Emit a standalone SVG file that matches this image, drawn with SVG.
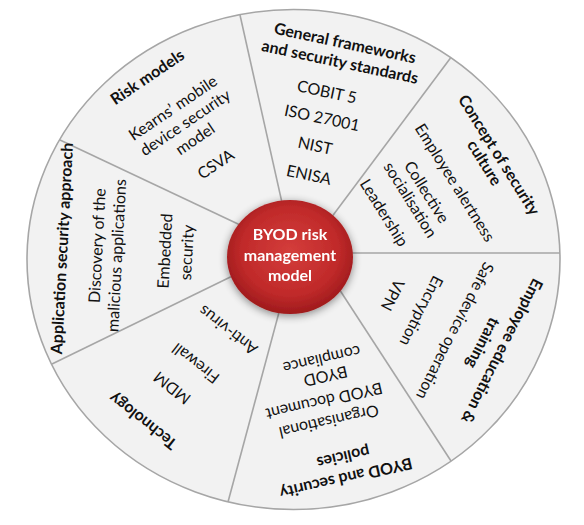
<svg xmlns="http://www.w3.org/2000/svg" width="584" height="525" viewBox="0 0 584 525">
<defs>
<radialGradient id="red" cx="50%" cy="45%" r="55%">
<stop offset="0" stop-color="#d43d3b"/>
<stop offset="0.7" stop-color="#c02a2a"/>
<stop offset="1" stop-color="#9e1a1c"/>
</radialGradient>
<filter id="shadow" x="-30%" y="-30%" width="160%" height="160%">
<feGaussianBlur in="SourceAlpha" stdDeviation="4"/>
<feOffset dx="0" dy="2" result="b"/>
<feComponentTransfer><feFuncA type="linear" slope="0.45"/></feComponentTransfer>
<feMerge><feMergeNode/><feMergeNode in="SourceGraphic"/></feMerge>
</filter>
<style>
.rim{fill:#f2f2f2;stroke:#a6a6a6;stroke-width:1.6}
.div{stroke:#a6a6a6;stroke-width:1.6;fill:none}
text{font-family:Lato,"Open Sans","Liberation Sans",sans-serif;fill:#111;text-anchor:middle}
.t{font-size:16px}
.h{font-size:16px;font-weight:bold}
.c{font-size:16px;font-weight:bold;fill:#fff}
</style>
</defs>
<rect width="584" height="525" fill="#fff"/>
<ellipse class="rim" cx="293.5" cy="259.5" rx="266.5" ry="250"/>
<g id="connectors">
<line class="div" x1="287" y1="225" x2="240" y2="15"/>
<line class="div" x1="255" y1="232" x2="60" y2="140"/>
<line class="div" x1="255" y1="265" x2="52" y2="364"/>
<line class="div" x1="285" y1="290" x2="228" y2="502"/>
<line class="div" x1="330" y1="275" x2="451" y2="461"/>
<line class="div" x1="330" y1="253" x2="560" y2="253"/>
<line class="div" x1="322" y1="230" x2="450.5" y2="58"/>
</g>
<g id="risk-models" transform="translate(173,108) rotate(-34)">
<text class="h" x="-4" y="-34.5">Risk models</text>
<text class="t" x="0" y="5.5">Kearns’ mobile</text>
<text class="t" x="2" y="24.5">device security</text>
<text class="t" x="1" y="43.5">model</text>
<text class="t" x="4" y="76">CSVA</text>
</g>
<g id="general-frameworks" transform="translate(340,62) rotate(12)">
<text class="h" x="1" y="-14">General frameworks</text>
<text class="h" x="0" y="5.5">and security standards</text>
<text class="t" x="-6.5" y="37.5">COBIT 5</text>
<text class="t" x="-6" y="64">ISO 27001</text>
<text class="t" x="-7" y="92.5">NIST</text>
<text class="t" x="-7" y="122.5">ENISA</text>
</g>
<g id="security-culture" transform="translate(499,155) rotate(58)">
<text class="h" x="0" y="5.5">Concept of security</text>
<text class="h" x="-1" y="22">culture</text>
<text class="t" x="0" y="57.5">Employee alertness</text>
<text class="t" x="-7" y="86.5">Collective</text>
<text class="t" x="-9" y="104.5">socialisation</text>
<text class="t" x="-12" y="133.5">Leadership</text>
</g>
<g id="employee-education" transform="translate(502,351) rotate(117)">
<text class="h" x="0" y="5.5">Employee education &amp;</text>
<text class="h" x="1.5" y="26">training</text>
<text class="t" x="3.5" y="56.5">Safe device operation</text>
<text class="t" x="1" y="95.5">Encryption</text>
<text class="t" x="0" y="128.5">VPN</text>
</g>
<g id="byod-policies" transform="translate(346,478) rotate(167)">
<text class="h" x="0" y="5.5">BYOD and security</text>
<text class="h" x="-2" y="26.5">policies</text>
<text class="t" x="4" y="64.5">Organisational</text>
<text class="t" x="4" y="85.5">BYOD document</text>
<text class="t" x="-3" y="109.5">BYOD</text>
<text class="t" x="-3" y="126.5">compliance</text>
</g>
<g id="technology" transform="translate(143,421) rotate(218)">
<text class="h" x="0" y="5.5">Technology</text>
<text class="t" x="-2.6" y="49.5">MDM</text>
<text class="t" x="-6" y="83.5">Firewall</text>
<text class="t" x="-11" y="129.5">Anti-virus</text>
</g>
<g id="application-security" transform="translate(62,248.5) rotate(-87)">
<text class="h" x="0" y="5.5">Application security approach</text>
<text class="t" x="4.8" y="40.5">Discovery of the</text>
<text class="t" x="-4.1" y="60.5">malicious applications</text>
<text class="t" x="2.9" y="108.5">Embedded</text>
<text class="t" x="2.5" y="130.5">security</text>
</g>
<g id="center" filter="url(#shadow)">
<ellipse cx="290" cy="257" rx="63" ry="57" fill="url(#red)"/>
<text class="c" x="290" y="240">BYOD risk</text>
<text class="c" x="290" y="261">management</text>
<text class="c" x="290" y="281">model</text>
</g>
</svg>
